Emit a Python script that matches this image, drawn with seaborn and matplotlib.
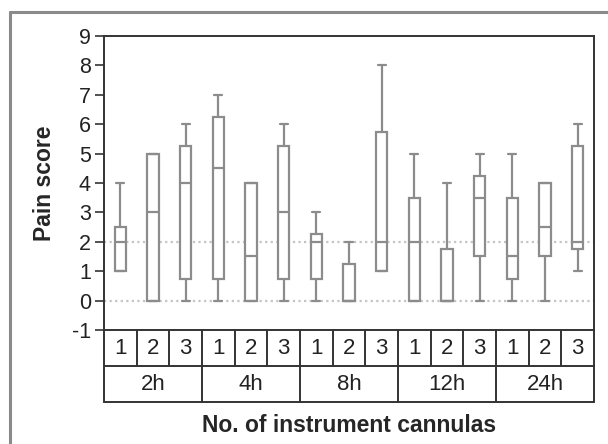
import numpy as np
import pandas as pd
import matplotlib
matplotlib.use("Agg")
import matplotlib.pyplot as plt
from matplotlib.lines import Line2D
import seaborn as sns

# --- data (five-number summaries per group) ---
times = ["2h", "4h", "8h", "12h", "24h"]
cannulas = ["1", "2", "3"]
mins = [1, 0, 0, 0, 0, 0, 0, 0, 1, 0, 0, 0, 0, 0, 1]
q1s = [1, 0, 0.75, 0.75, 0, 0.75, 0.75, 0, 1, 0, 0, 1.5, 0.75, 1.5, 1.75]
medians = [2, 3, 4, 4.5, 1.5, 3, 2, 0, 2, 2, 0, 3.5, 1.5, 2.5, 2]
q3s = [2.5, 5, 5.25, 6.25, 4, 5.25, 2.25, 1.25, 5.75, 3.5, 1.75, 4.25, 3.5, 4, 5.25]
maxs = [4, 5, 6, 7, 4, 6, 3, 2, 8, 5, 4, 5, 5, 4, 6]
yticks = list(range(-1, 10))

groups = [f"{t}-{c}" for t in times for c in cannulas]

# five points per group give exactly these quartiles with linear percentiles
rows = []
for g, lo, a, m, b, hi in zip(groups, mins, q1s, medians, q3s, maxs):
    for v in (lo, a, m, b, hi):
        rows.append({"group": g, "score": v})
df = pd.DataFrame(rows)

sns.set_style("white")
plt.rcParams["font.family"] = ["Liberation Sans", "DejaVu Sans"]

fig = plt.figure(figsize=(6.08, 4.44), dpi=100)
ax = fig.add_axes([104 / 608, 1 - 330 / 444, 490 / 608, 294 / 444])

ax.axhline(0, ls=(0, (1, 1.5)), color="#c4c4c4", lw=1.6, zorder=0)
ax.axhline(2, ls=(0, (1, 1.5)), color="#c4c4c4", lw=1.6, zorder=0)

sns.boxplot(data=df, x="group", y="score", order=groups, whis=(0, 100),
            width=0.34, color="white", linecolor="#8c8c8c", linewidth=1.6,
            showfliers=False, capwidths=0.24, ax=ax)

ax.set_ylim(-1, 9)
ax.set_xlim(-0.5, len(groups) - 0.5)
ax.set_yticks(yticks)
ax.set_yticklabels([str(v) for v in yticks], fontsize=15.5, color="#222222")
ax.tick_params(axis="y", direction="out", length=6.5, width=1.2, color="#333333", pad=3, left=True)
ax.set_xticks([])
ax.set_xlabel("")
ax.set_ylabel("Pain score", fontsize=16.5, fontweight="bold")
ax.yaxis.set_label_coords(-0.098, 0.5)
for s in ax.spines.values():
    s.set_color("#333333")
    s.set_linewidth(1.4)

# --- category table below the axes ---
tr = ax.get_xaxis_transform()
rh = 36 / 294
lc = "#333333"
for k in range(len(groups) + 1):
    x = k - 0.5
    bottom = -2 * rh if k % 3 == 0 else -rh
    ax.add_line(Line2D([x, x], [0, bottom], transform=tr, color=lc, lw=1.4, clip_on=False))
for y in (-rh, -2 * rh):
    ax.add_line(Line2D([-0.5, len(groups) - 0.5], [y, y], transform=tr, color=lc, lw=1.4, clip_on=False))
for i, g in enumerate(groups):
    ax.text(i, -rh / 2, g.split("-")[1], transform=tr, ha="center", va="center",
            fontsize=16, color="#222222")
for j, t in enumerate(times):
    ax.text(3 * j + 1, -1.5 * rh, t, transform=tr, ha="center", va="center",
            fontsize=16, color="#222222")

fig.text((104 + 594) / 2 / 608, 1 - 425 / 444, "No. of instrument cannulas",
         ha="center", va="center", fontsize=16.5, fontweight="bold")

# outer grey frame (left and top edges)
fig.add_artist(Line2D([10 / 608, 10 / 608], [0, 1 - 12 / 444], color="#8a8a8a", lw=2.2))
fig.add_artist(Line2D([10 / 608, 1], [1 - 12 / 444, 1 - 12 / 444], color="#8a8a8a", lw=2.2))

fig.savefig("out.png", dpi=100)
